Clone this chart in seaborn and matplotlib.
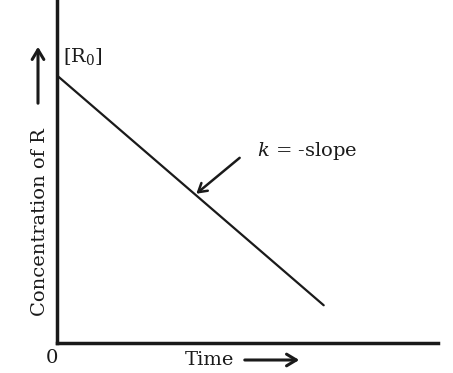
import matplotlib
matplotlib.use("Agg")
import matplotlib.pyplot as plt
import seaborn as sns
import pandas as pd

time = [0.0, 7.0]
concentration = [7.8, 1.1]
xlabel = "Time"
ylabel = "Concentration of R"
start_label = "[R$_0$]"
slope_label = "k = -slope"

sns.set_theme(style="white")
plt.rcParams['font.family'] = ['DejaVu Serif']
plt.rcParams['mathtext.fontset'] = 'dejavuserif'

df = pd.DataFrame({"time": time, "conc": concentration})

fig = plt.figure(figsize=(4.53, 3.73), dpi=100)
ax = fig.add_axes([57/453, 30/373, 381/453, 343/373])
sns.lineplot(data=df, x="time", y="conc", ax=ax, color="#1a1a1a", linewidth=1.6)
ax.set_xlim(0, 10)
ax.set_ylim(0, 10)
ax.set_xticks([])
ax.set_yticks([])
ax.set_xlabel("")
ax.set_ylabel("")
for s in ["top", "right"]:
    ax.spines[s].set_visible(False)
for s in ["left", "bottom"]:
    ax.spines[s].set_color("#1a1a1a")
    ax.spines[s].set_linewidth(2.5)

fs = 14
# [R0] label
ax.text(0.15, 8.05, start_label, fontsize=fs, ha="left", va="bottom", color="#1a1a1a")
# k = -slope
ax.text(5.25, 5.6, "$k$ = -slope", fontsize=fs, ha="left", va="center", color="#1a1a1a")
# arrow pointing to line
ax.annotate("", xy=(3.6, 4.3), xytext=(4.85, 5.45),
            arrowprops=dict(arrowstyle="->,head_length=0.5,head_width=0.3", color="#1a1a1a", lw=1.8))

# origin label
fig.text(52/453, 1 - 358/373, "0", fontsize=fs, ha="center", va="center", color="#1a1a1a")
# Time label and arrow
fig.text(209/453, 1 - 360/373, xlabel, fontsize=fs, ha="center", va="center", color="#1a1a1a")
fig.add_artist(matplotlib.patches.FancyArrowPatch((242/453, 1 - 360/373), (302/453, 1 - 360/373),
               transform=fig.transFigure, arrowstyle="->,head_length=0.5,head_width=0.3",
               mutation_scale=14, color="#1a1a1a", lw=2.2))
# y label and arrow
fig.text(40/453, 1 - 222/373, ylabel, fontsize=fs, ha="center", va="center", rotation=90, color="#1a1a1a")
fig.add_artist(matplotlib.patches.FancyArrowPatch((38/453, 1 - 106/373), (38/453, 1 - 44/373),
               transform=fig.transFigure, arrowstyle="->,head_length=0.5,head_width=0.3",
               mutation_scale=14, color="#1a1a1a", lw=2.2))

fig.savefig("out.png", dpi=100, facecolor="white")
